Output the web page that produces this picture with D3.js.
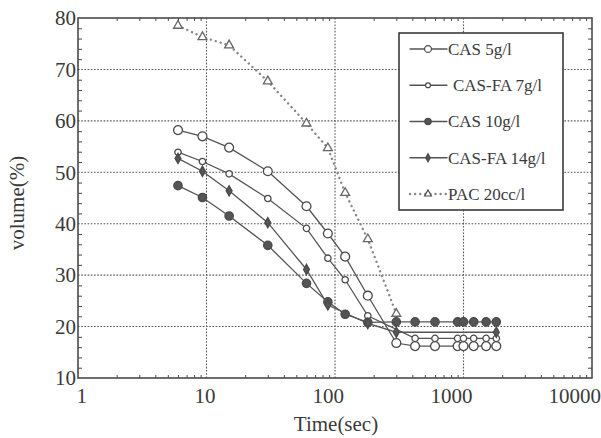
<!DOCTYPE html>
<html>
<head>
<meta charset="utf-8">
<script src="https://cdn.jsdelivr.net/npm/d3@7"></script>
<style>
  body { margin: 0; background: #fff; }
  svg { display: block; }
  text { font-family: "Liberation Serif", "Times New Roman", serif; fill: #3a3a3a; }
</style>
</head>
<body>
<svg width="601" height="438"></svg>
<script>
'use strict';

// time (sec) of every reading, shared by all series
var times   = [6, 9.3, 15, 30, 60, 88, 120, 180, 300, 420, 600, 900, 1000, 1200, 1500, 1800];
// volume (%) per series, null = no reading
var cas5    = [58.2, 57.0, 54.8, 50.2, 43.4, 38.1, 33.6, 26.0, 16.8, 16.2, 16.2, 16.2, 16.2, 16.2, 16.2, 16.2];
var casFa7  = [53.9, 52.1, 49.7, 44.9, 39.1, 33.3, 29.1, 22.1, null, 17.7, 17.7, 17.7, 17.7, 17.7, 17.7, 17.7];
var cas10   = [47.4, 45.1, 41.5, 35.8, 28.4, 24.8, 22.4, 20.8, 20.9, 20.9, 20.9, 20.9, 20.9, 20.9, 20.9, 20.9];
var casFa14 = [52.7, 50.2, 46.4, 40.2, 31.1, 24.2, null, 20.6, 18.9, null, null, null, null, null, null, 18.9];
var pac20   = [78.5, 76.3, 74.7, 67.7, 59.5, 54.7, 46.0, 37.0, 22.5, null, null, null, null, null, null, null];

var seriesNames = ['CAS 5g/l', 'CAS-FA 7g/l', 'CAS 10g/l', 'CAS-FA 14g/l', 'PAC 20cc/l'];
var xTicks = [1, 10, 100, 1000, 10000];
var yTicks = [10, 20, 30, 40, 50, 60, 70, 80];

var svg = d3.select('svg');
var ink = '#4a4a4a';

var x = d3.scaleLog().domain([1, 10000]).range([78, 592]);
var y = d3.scaleLinear().domain([10, 80]).range([378, 18]);

// dotted grid
var grid = svg.append('g');
grid.selectAll('.gx').data([10, 100, 1000]).enter().append('line')
    .attr('x1', function(d){ return x(d); }).attr('x2', function(d){ return x(d); })
    .attr('y1', y(80)).attr('y2', y(10))
    .attr('stroke', '#555').attr('stroke-width', 1.1).attr('stroke-dasharray', '1.6,1.6');
grid.selectAll('.gy').data([20, 30, 40, 50, 60, 70]).enter().append('line')
    .attr('x1', x(1)).attr('x2', x(10000))
    .attr('y1', function(d){ return y(d); }).attr('y2', function(d){ return y(d); })
    .attr('stroke', '#555').attr('stroke-width', 1.1).attr('stroke-dasharray', '1.6,1.6');

// minor ticks, pointing inward on every side
var xMinor = [];
[1, 10, 100, 1000].forEach(function(dec){
    for (var k = 2; k <= 9; k++) xMinor.push(dec * k);
});
var yMinor = d3.range(12, 80, 2).filter(function(v){ return v % 10 !== 0; });

function styleAxis(g){
    g.select('.domain').remove();
    g.selectAll('line').attr('stroke', ink).attr('stroke-width', 1);
    g.selectAll('text').remove();
}
svg.append('g').attr('transform', 'translate(0,' + y(10) + ')')
    .call(d3.axisBottom(x).tickValues(xMinor).tickSize(-3)).call(styleAxis);
svg.append('g').attr('transform', 'translate(0,' + y(80) + ')')
    .call(d3.axisTop(x).tickValues(xMinor).tickSize(-3)).call(styleAxis);
svg.append('g').attr('transform', 'translate(' + x(1) + ',0)')
    .call(d3.axisLeft(y).tickValues(yMinor).tickSize(-4)).call(styleAxis);
svg.append('g').attr('transform', 'translate(' + x(10000) + ',0)')
    .call(d3.axisRight(y).tickValues(yMinor).tickSize(-4)).call(styleAxis);

// frame
svg.append('rect')
    .attr('x', x(1)).attr('y', y(80))
    .attr('width', x(10000) - x(1)).attr('height', y(10) - y(80))
    .attr('fill', 'none').attr('stroke', ink).attr('stroke-width', 1.6);

// tick labels
svg.append('g').selectAll('text').data(yTicks).enter().append('text')
    .attr('x', x(1) - 2).attr('y', function(d){ return y(d); })
    .attr('dy', '0.35em').attr('text-anchor', 'end')
    .style('font-size', '21px').text(function(d){ return d; });
svg.append('g').selectAll('text').data(xTicks).enter().append('text')
    .attr('x', function(d){ return x(d) + 9; }).attr('y', 403)
    .attr('text-anchor', 'end')
    .style('font-size', '21px').text(function(d){ return d; });

svg.append('text').attr('x', 336).attr('y', 431).attr('text-anchor', 'middle')
    .style('font-size', '21px').text('Time(sec)');
svg.append('text').attr('transform', 'translate(24,203) rotate(-90)').attr('text-anchor', 'middle')
    .style('font-size', '21px').text('volume(%)');

// series drawing
var styles = [
    {vals: cas5,    sym: d3.symbolCircle,   size: 62, fill: '#fff', lw: 1.3, dash: null},
    {vals: casFa7,  sym: d3.symbolCircle,   size: 32, fill: '#fff', lw: 1.3, dash: null},
    {vals: cas10,   sym: d3.symbolCircle,   size: 55, fill: '#555', lw: 1.3, dash: null},
    {vals: casFa14, sym: d3.symbolDiamond,  size: 30, fill: '#555', lw: 1.3, dash: null},
    {vals: pac20,   sym: d3.symbolTriangle, size: 34, fill: '#fff', lw: 2.4, dash: '0.1,5'}
];

var line = d3.line().x(function(d){ return x(d.t); }).y(function(d){ return y(d.v); });

styles.forEach(function(s, i){
    var pts = times.map(function(t, j){ return {t: t, v: s.vals[j]}; })
                   .filter(function(d){ return d.v !== null; });
    var g = svg.append('g');
    g.append('path').attr('d', line(pts))
        .attr('fill', 'none')
        .attr('stroke', s.dash ? '#888' : '#555')
        .attr('stroke-width', s.lw)
        .attr('stroke-linecap', 'round')
        .attr('stroke-dasharray', s.dash);
    g.selectAll('path.m').data(pts).enter().append('path').attr('class', 'm')
        .attr('transform', function(d){ return 'translate(' + x(d.t) + ',' + y(d.v) + ')'; })
        .attr('d', d3.symbol().type(s.sym).size(s.size))
        .attr('fill', s.fill)
        .attr('stroke', s.dash ? '#666' : '#4a4a4a')
        .attr('stroke-width', 1.3);
});

// legend
var legend = svg.append('g');
legend.append('rect').attr('x', 399).attr('y', 33).attr('width', 164).attr('height', 177)
    .attr('fill', '#fff').attr('stroke', '#3a3a3a').attr('stroke-width', 1.6);
var legY = d3.scalePoint().domain(seriesNames).range([49, 194]);
seriesNames.forEach(function(name, i){
    var s = styles[i], yy = legY(name);
    legend.append('line').attr('x1', 410).attr('x2', 447).attr('y1', yy).attr('y2', yy)
        .attr('stroke', s.dash ? '#888' : '#555').attr('stroke-width', s.lw)
        .attr('stroke-linecap', 'round').attr('stroke-dasharray', s.dash);
    legend.append('path').attr('transform', 'translate(428,' + yy + ')')
        .attr('d', d3.symbol().type(s.sym).size(s.size * 0.6))
        .attr('fill', s.fill).attr('stroke', '#4a4a4a').attr('stroke-width', 1.2);
    legend.append('text').attr('x', i === 1 ? 453 : 448).attr('y', yy).attr('dy', '0.35em')
        .style('font-size', '17px').text(name);
});
</script>
</body>
</html>
